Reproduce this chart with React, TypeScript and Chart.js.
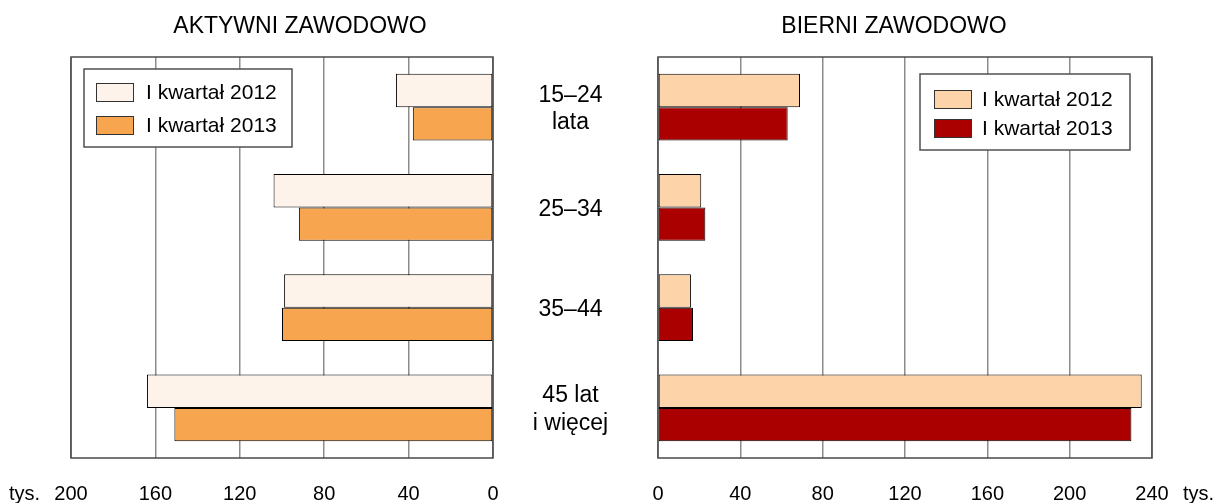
import React, { useEffect, useRef } from "react";
import { Chart, registerables } from "chart.js";

Chart.register(...registerables);

// ---------- data ----------
const categories: (string | string[])[] = [["15–24", "lata"], "25–34", "35–44", ["45 lat", "i więcej"]];
const seriesLabels = ["I kwartał 2012", "I kwartał 2013"];
const active2012 = [46, 104, 99, 164];
const active2013 = [38, 92, 100, 151];
const inactive2012 = [69, 21, 16, 235];
const inactive2013 = [63, 23, 17, 230];
const activeMax = 200;
const inactiveMax = 240;
const tickStep = 40;
const unitLabel = "tys.";
const titles = ["AKTYWNI ZAWODOWO", "BIERNI ZAWODOWO"];

const FONT = "'Liberation Sans', Arial, Helvetica, sans-serif";
Chart.defaults.font.family = FONT;
Chart.defaults.color = "#000";

const TICK_PAD = 24;

const framePlugin = {
  id: "frame",
  beforeDatasetsDraw(chart: any) {
    const { ctx, chartArea: a } = chart;
    ctx.save();
    ctx.strokeStyle = "#4a4a4a";
    ctx.lineWidth = 1.5;
    ctx.strokeRect(a.left, a.top, a.right - a.left, a.bottom - a.top);
    ctx.restore();
  },
};

// category labels in the gap between the two panels, placed by the category scale
const categoryLabelPlugin = {
  id: "categoryLabels",
  afterDraw(chart: any) {
    const { ctx, chartArea: a } = chart;
    const ys = chart.scales.y;
    const cx = a.right + 77.5;
    const lh = 27.5;
    ctx.save();
    ctx.fillStyle = "#000";
    ctx.font = `23px ${FONT}`;
    ctx.textAlign = "center";
    ctx.textBaseline = "middle";
    (chart.data.labels as (string | string[])[]).forEach((lab, i) => {
      const lines = Array.isArray(lab) ? lab : [lab];
      const cy = ys.getPixelForValue(i) + 2;
      const y0 = cy - ((lines.length - 1) * lh) / 2;
      lines.forEach((ln, k) => ctx.fillText(ln, cx, y0 + k * lh));
    });
    ctx.restore();
  },
};

function makeLegendPlugin(cfg: {
  anchor: "left" | "right";
  offsetX: number;
  offsetY: number;
  width: number;
  height: number;
  swatchX: number;
  firstRow: number;
  rowGap: number;
  textX: number;
}) {
  return {
    id: "boxLegend",
    afterDatasetsDraw(chart: any) {
      const { ctx, chartArea: a } = chart;
      const x = cfg.anchor === "right" ? a.right - cfg.offsetX - cfg.width : a.left + cfg.offsetX;
      const y = a.top + cfg.offsetY;
      ctx.save();
      ctx.fillStyle = "#fff";
      ctx.fillRect(x, y, cfg.width, cfg.height);
      ctx.strokeStyle = "#505050";
      ctx.lineWidth = 1.5;
      ctx.strokeRect(x, y, cfg.width, cfg.height);
      chart.data.datasets.forEach((ds: any, i: number) => {
        const sy = y + cfg.firstRow + i * cfg.rowGap;
        ctx.fillStyle = ds.backgroundColor;
        ctx.fillRect(x + cfg.swatchX, sy, 38, 19);
        ctx.strokeStyle = "#333";
        ctx.lineWidth = 1;
        ctx.strokeRect(x + cfg.swatchX + 0.5, sy + 0.5, 37, 18);
        ctx.fillStyle = "#000";
        ctx.font = `21px ${FONT}`;
        ctx.textAlign = "left";
        ctx.textBaseline = "middle";
        ctx.fillText(ds.label, x + cfg.textX, sy + 10);
      });
      ctx.restore();
    },
  };
}

function makeUnitPlugin(value: number, side: "left" | "right") {
  return {
    id: "unitLabel",
    afterDraw(chart: any) {
      const { ctx } = chart;
      const sc = chart.scales.x;
      const px = sc.getPixelForValue(value);
      const y = sc.top + TICK_PAD + 12;
      ctx.save();
      ctx.fillStyle = "#000";
      ctx.font = `20px ${FONT}`;
      ctx.textBaseline = "middle";
      ctx.textAlign = side === "left" ? "right" : "left";
      ctx.fillText(unitLabel, side === "left" ? px - 31 : px + 31, y);
      ctx.restore();
    },
  };
}

const titleOpts = (text: string) => ({
  display: true,
  text,
  color: "#000",
  font: { size: 23, weight: "normal" as const, family: FONT },
  padding: { top: 12.5, bottom: 16.9 },
});

const gridOpts = { color: "#8c8c8c", lineWidth: 1.5, drawTicks: false };

function xScale(max: number, reverse: boolean) {
  return {
    type: "linear",
    reverse,
    min: 0,
    max,
    ticks: { stepSize: tickStep, font: { size: 20 }, color: "#000", padding: TICK_PAD },
    grid: gridOpts,
    border: { display: false },
    afterFit(s: any) { s.height = 45; },
  };
}

function yScale(position: "left" | "right", width: number) {
  return {
    position,
    grid: { display: false },
    border: { display: false },
    ticks: { display: false },
    afterFit(s: any) { s.width = width; },
  };
}

function leftConfig(): any {
  return {
    type: "bar",
    data: {
      labels: categories,
      datasets: [
        { label: seriesLabels[0], data: active2012, backgroundColor: "#FDF3EA", borderColor: "#000", borderWidth: 1, borderSkipped: false },
        { label: seriesLabels[1], data: active2013, backgroundColor: "#F8A550", borderColor: "#000", borderWidth: 1, borderSkipped: false },
      ],
    },
    options: {
      indexAxis: "y",
      responsive: false,
      animation: false,
      layout: { padding: { left: 71, right: 91, top: 0, bottom: 0 } },
      datasets: { bar: { barPercentage: 1, categoryPercentage: 0.665 } },
      scales: {
        x: xScale(activeMax, true),
        y: yScale("right", 36),
      },
      plugins: {
        legend: { display: false },
        tooltip: { enabled: false },
        title: titleOpts(titles[0]),
      },
    },
    plugins: [
      framePlugin,
      categoryLabelPlugin,
      makeLegendPlugin({ anchor: "left", offsetX: 13, offsetY: 12, width: 208, height: 78, swatchX: 12, firstRow: 14, rowGap: 33, textX: 62 }),
      makeUnitPlugin(activeMax, "left"),
    ],
  };
}

function rightConfig(): any {
  return {
    type: "bar",
    data: {
      labels: categories,
      datasets: [
        { label: seriesLabels[0], data: inactive2012, backgroundColor: "#FDD4AA", borderColor: "#000", borderWidth: 1, borderSkipped: false },
        { label: seriesLabels[1], data: inactive2013, backgroundColor: "#AA0000", borderColor: "#000", borderWidth: 1, borderSkipped: false },
      ],
    },
    options: {
      indexAxis: "y",
      responsive: false,
      animation: false,
      layout: { padding: { left: 67, right: 67, top: 0, bottom: 0 } },
      datasets: { bar: { barPercentage: 1, categoryPercentage: 0.665 } },
      scales: {
        x: xScale(inactiveMax, false),
        y: yScale("left", 22),
      },
      plugins: {
        legend: { display: false },
        tooltip: { enabled: false },
        title: titleOpts(titles[1]),
      },
    },
    plugins: [
      framePlugin,
      makeLegendPlugin({ anchor: "right", offsetX: 22, offsetY: 17, width: 210, height: 76, swatchX: 14, firstRow: 16, rowGap: 29, textX: 62 }),
      makeUnitPlugin(inactiveMax, "right"),
    ],
  };
}

function ChartCanvas({ make, left, width, height }: { make: () => any; left: number; width: number; height: number }) {
  const ref = useRef<HTMLCanvasElement | null>(null);
  useEffect(() => {
    if (!ref.current) return;
    const chart = new Chart(ref.current, make());
    return () => chart.destroy();
  }, []);
  return (
    <canvas
      ref={ref}
      width={width}
      height={height}
      style={{ position: "absolute", left, top: 0, width, height }}
    />
  );
}

export default function App() {
  return (
    <div style={{ position: "fixed", left: 0, top: 0, width: 1219, height: 503, background: "#fff", overflow: "hidden" }}>
      <ChartCanvas make={leftConfig} left={0} width={620} height={503} />
      <ChartCanvas make={rightConfig} left={569} width={650} height={503} />
    </div>
  );
}
